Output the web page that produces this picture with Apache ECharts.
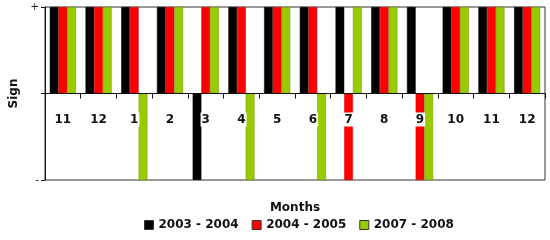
<!DOCTYPE html>
<html><head><meta charset="utf-8">
<script src="https://cdn.jsdelivr.net/npm/echarts@6/dist/echarts.min.js"></script>
<style>html,body{margin:0;padding:0;background:#fff}#c{width:550px;height:240px}</style>
</head><body><div id="c"></div>
<script>
const months = ['11','12','1','2','3','4','5','6','7','8','9','10','11','12'];
const s2003 = [1,1,1,1,-1,1,1,1,1,1,1,1,1,1];
const s2004 = [1,1,1,1,1,1,1,1,-1,1,-1,1,1,1];
const s2007 = [1,1,-1,1,1,-1,1,-1,1,1,-1,1,1,1];
const seriesNames = ['2003 - 2004','2004 - 2005','2007 - 2008'];
const colors = ['#000000','#ff0000','#99cc00'];
const borders = ['#000000','#cc0000','#6b8f00'];
const font = 'DejaVu Sans';
const chart = echarts.init(document.getElementById('c'));
const data = [s2003, s2004, s2007];
chart.setOption({
  animation: false,
  grid: {left: 45, right: 5, top: 7, bottom: 60, show: true, borderColor: '#333', borderWidth: 1,
    containLabel: false, outerBoundsMode: 'none'},
  legend: {
    bottom: 4, left: 139, itemWidth: 9, itemHeight: 9, itemGap: 13,
    textStyle: {fontFamily: font, fontSize: 12, fontWeight: 'bold', color: '#111'},
    data: seriesNames.map((n,i)=>({name:n, icon:'rect', itemStyle:{borderColor:'#333', borderWidth:1}}))
  },
  xAxis: {
    type: 'category', data: months, z: 5, position: 'bottom', offset: -86.5,
    name: 'Months', nameLocation: 'middle', nameGap: 108,
    nameTextStyle: {fontFamily: font, fontSize: 12, fontWeight: 'bold', color: '#111'},
    axisLine: {onZero: false, lineStyle: {color: '#111', width: 1}},
    axisTick: {show: true, alignWithLabel: false, length: 5, lineStyle: {color: '#111'}},
    axisLabel: {margin: 19, fontFamily: font, fontSize: 12, fontWeight: 'bold', color: '#111',
      backgroundColor: '#fff', padding: [1, 1, 1, 1]}
  },
  yAxis: {
    type: 'value', min: -1, max: 1, interval: 1,
    name: 'Sign', nameLocation: 'middle', nameGap: 25, nameRotate: 90,
    nameTextStyle: {fontFamily: font, fontSize: 12, fontWeight: 'bold', color: '#111'},
    axisLine: {show: true, lineStyle: {color: '#111'}},
    axisTick: {show: true, length: 4, lineStyle: {color: '#111'}},
    splitLine: {show: false},
    axisLabel: {fontFamily: font, fontSize: 10, color: '#111', margin: 6,
      formatter: v => v > 0 ? '+' : (v < 0 ? '-' : '')}
  },
  series: data.map((d,i)=>({
    name: seriesNames[i], type: 'bar', data: d, barWidth: 8.7, barGap: '0%',
    itemStyle: {color: colors[i], borderColor: borders[i], borderWidth: 0.5}
  }))
});
</script></body></html>
